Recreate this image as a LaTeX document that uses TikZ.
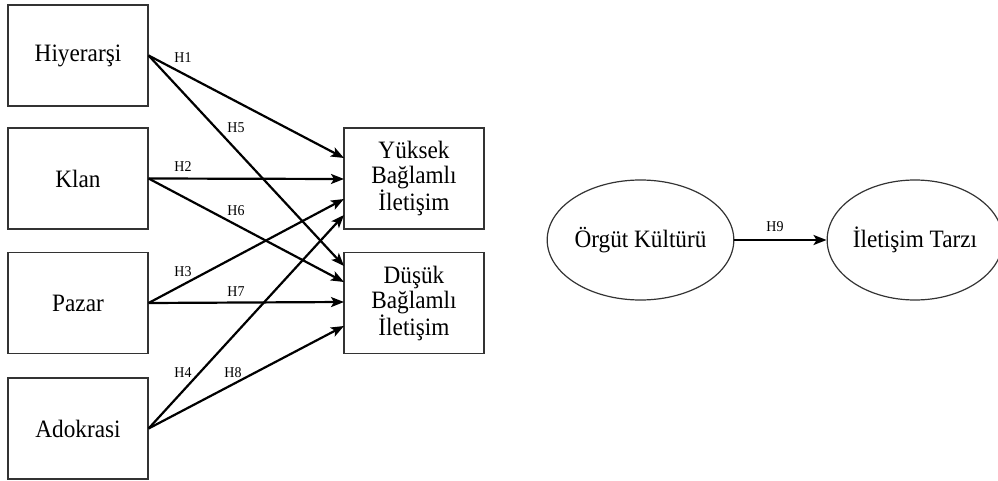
\documentclass[tikz,border=0pt]{standalone}
\usepackage{fontspec}
\setmainfont[FakeStretch=0.93]{Liberation Serif}
\usetikzlibrary{shapes.geometric, arrows.meta}

\tikzset{
	kutu/.style={draw=black!80, line width=1.2pt, minimum width=140pt, minimum height=101pt, inner sep=0pt, align=center, font=\fontsize{25}{25}\selectfont},
	elips/.style={ellipse, draw=black!80, line width=1.2pt, inner sep=0pt, font=\fontsize{25}{25}\selectfont},
	ok/.style={line width=2.2pt, -{Stealth[length=13pt, width=10pt, inset=3pt]}},
	hip/.style={font=\fontsize{15}{15}\selectfont, inner sep=0pt}
}

\begin{document}
\begin{tikzpicture}[x=1pt, y=-1pt]
					\useasboundingbox (0,0) rectangle (998,481);

					% kultur tipleri
					\node[kutu] (hiy) at (78, 55.5) {Hiyerarşi};
					\node[kutu] (klan) at (78, 178.5) {Klan};
					\node[kutu] (pazar) at (78, 303) {Pazar};
					\node[kutu] (adok) at (78, 428.5) {Adokrasi};

					% iletisim tipleri
					\node[kutu] (yuk) at (414, 178.5) {Yüksek\\Bağlamlı\\İletişim};
					\node[kutu] (dus) at (414, 303) {Düşük\\Bağlamlı\\İletişim};

					\coordinate (Y1) at (344, 158);
					\coordinate (Y2) at (344, 179);
					\coordinate (Y3) at (344, 199);
					\coordinate (Y4) at (344, 215);
					\coordinate (D1) at (344, 266);
					\coordinate (D2) at (344, 282);
					\coordinate (D3) at (344, 302);
					\coordinate (D4) at (344, 326);

					\draw[ok] (hiy.east) -- (Y1);
					\draw[ok] (klan.east) -- (Y2);
					\draw[ok] (pazar.east) -- (Y3);
					\draw[ok] (adok.east) -- (Y4);
					\draw[ok] (hiy.east) -- (D1);
					\draw[ok] (klan.east) -- (D2);
					\draw[ok] (pazar.east) -- (D3);
					\draw[ok] (adok.east) -- (D4);

					\node[hip] (h1) at (183, 58) {H1};
					\node[hip] (h2) at (183, 167) {H2};
					\node[hip] (h3) at (183, 272) {H3};
					\node[hip] (h4) at (183, 373) {H4};
					\node[hip] (h5) at (236, 128) {H5};
					\node[hip] (h6) at (236, 211) {H6};
					\node[hip] (h7) at (236, 292) {H7};
					\node[hip] (h8) at (233, 373) {H8};

					% genel model
					\node[elips, minimum width=175pt, minimum height=120pt] (orgut) at (640.5, 240) {Örgüt Kültürü};
					\node[elips, minimum width=163pt, minimum height=120pt] (tarz) at (915, 240) {İletişim Tarzı};
					\draw[ok] (orgut) -- (tarz);
					\node[hip] (h9) at (775, 227) {H9};
\end{tikzpicture}
\end{document}
